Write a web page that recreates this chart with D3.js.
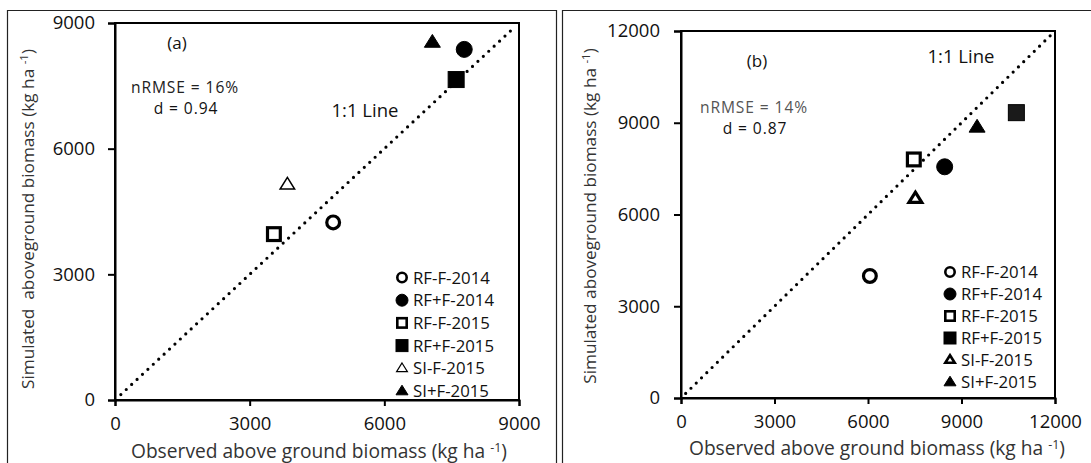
<!DOCTYPE html>
<html>
<head>
<meta charset="utf-8">
<script src="https://cdn.jsdelivr.net/npm/d3@7"></script>
<style>
  html, body { margin: 0; padding: 0; background: #fff; }
  svg { display: block; font-family: "Open Sans", "Noto Sans", sans-serif; }
</style>
</head>
<body>
<svg id="chart" width="1091" height="463"></svg>
<script>
// Treatments (same order in both panels)
const treatments = ["RF-F-2014", "RF+F-2014", "RF-F-2015", "RF+F-2015", "SI-F-2015", "SI+F-2015"];
const markerShapes = ["circle", "circle", "square", "square", "triangle", "triangle"];
const markerFilled = [false, true, false, true, false, true];

// Panel (a): observed vs simulated aboveground biomass (kg/ha)
const observedA  = [4860, 7780, 3540, 7600, 3840, 7070];
const simulatedA = [4240, 8370, 3960, 7650, 5150, 8550];
const ticksA = [0, 3000, 6000, 9000];

// Panel (b)
const observedB  = [6060, 8460, 7470, 10760, 7520, 9500];
const simulatedB = [3990, 7560, 7800, 9330, 6530, 8870];
const ticksB = [0, 3000, 6000, 9000, 12000];

const svg = d3.select("#chart");

// outer frame lines
svg.append("path").attr("d", "M7.5,463 V10.5 H556.5 V463").attr("fill", "none").attr("stroke", "#222").attr("stroke-width", 1.2);
svg.append("path").attr("d", "M562.5,463 V10.5 H1091").attr("fill", "none").attr("stroke", "#222").attr("stroke-width", 1.2);

function marker(g, shape, filled, size, strokeW, fillCol) {
  const col = "#000";
  let el;
  if (shape === "circle") {
    el = g.append("circle").attr("r", size / 2 - (filled ? 0 : strokeW / 2));
  } else if (shape === "square") {
    const s = size - (filled ? 0 : strokeW);
    el = g.append("rect").attr("x", -s / 2).attr("y", -s / 2).attr("width", s).attr("height", s);
  } else {
    const w = size - (filled ? 0 : strokeW), h = w * 0.8;
    el = g.append("path").attr("d", `M0,${-h / 2 - 1} L${w / 2},${h / 2 - 1} L${-w / 2},${h / 2 - 1} Z`);
  }
  if (filled) el.attr("fill", fillCol || col).attr("stroke", col).attr("stroke-width", 1);
  else el.attr("fill", "#fff").attr("stroke", col).attr("stroke-width", strokeW);
}

function panel(cfg) {
  const x = d3.scaleLinear().domain([0, cfg.max]).range([cfg.x0, cfg.x1]);
  const y = d3.scaleLinear().domain([0, cfg.max]).range([cfg.y0, cfg.y1]);
  const g = svg.append("g");

  // plot box
  g.append("rect").attr("x", cfg.x0).attr("y", cfg.y1).attr("width", cfg.x1 - cfg.x0).attr("height", cfg.y0 - cfg.y1)
    .attr("fill", "none").attr("stroke", "#000").attr("stroke-width", 2);

  const ax = g.append("g").attr("transform", `translate(0,${cfg.y0})`)
    .call(d3.axisBottom(x).tickValues(cfg.ticks).tickFormat(d3.format("d")).tickSizeOuter(0).tickSize(6).tickPadding(cfg.xPad));
  const ay = g.append("g").attr("transform", `translate(${cfg.x0},0)`)
    .call(d3.axisLeft(y).tickValues(cfg.ticks).tickFormat(d3.format("d")).tickSizeOuter(0).tickSize(7).tickPadding(cfg.yPad));
  [ax, ay].forEach(a => {
    a.select(".domain").attr("stroke", "#000").attr("stroke-width", 2);
    a.selectAll(".tick line").attr("stroke", "#000").attr("stroke-width", 2);
    a.selectAll(".tick text").attr("font-size", 18.5).attr("fill", "#111").attr("font-family", "Open Sans");
  });

  // 1:1 line (dotted)
  g.append("line")
    .attr("x1", x(cfg.lineFrom)).attr("y1", y(cfg.lineFrom))
    .attr("x2", x(cfg.lineTo)).attr("y2", y(cfg.lineTo))
    .attr("stroke", "#000").attr("stroke-width", 3.2)
    .attr("stroke-linecap", "round").attr("stroke-dasharray", "0,7.4");

  // data markers
  cfg.obs.forEach((v, i) => {
    const m = g.append("g").attr("transform", `translate(${x(v)},${y(cfg.sim[i])})`);
    const thin = cfg.thinTriangle && markerShapes[i] === "triangle" && !markerFilled[i];
    marker(m, markerShapes[i], markerFilled[i], 16, thin ? 1.5 : 3.2, cfg.fillSquare && markerShapes[i] === "square" ? "#1a1a1a" : null);
  });

  // legend
  treatments.forEach((t, i) => {
    const ly = cfg.legY + i * cfg.legStep;
    const m = g.append("g").attr("transform", `translate(${cfg.legX},${ly})`);
    const thin = cfg.thinTriangle && markerShapes[i] === "triangle" && !markerFilled[i];
    marker(m, markerShapes[i], markerFilled[i], 12, thin ? 1.2 : 2.6);
    g.append("text").attr("x", cfg.legX + 11).attr("y", ly).attr("dy", "0.36em")
      .attr("font-size", 16.8).attr("fill", "#111").text(t);
  });

  // annotations
  g.append("text").attr("x", cfg.tagX).attr("y", cfg.tagY).attr("dy", "0.36em").attr("text-anchor", "middle")
    .attr("font-size", 17).attr("fill", "#111").text(cfg.tag);
  g.append("text").attr("x", cfg.lineLabX).attr("y", cfg.lineLabY).attr("dy", "0.36em").attr("text-anchor", "middle")
    .attr("font-size", 18.5).attr("fill", "#111").text("1:1 Line");
  g.append("text").attr("x", cfg.statX).attr("y", cfg.statY).attr("dy", "0.36em").attr("text-anchor", "middle")
    .attr("font-size", 15.6).attr("letter-spacing", 0.9).attr("fill", cfg.statCol).text(cfg.nrmse);
  g.append("text").attr("x", cfg.statX + 1).attr("y", cfg.statY + 21).attr("dy", "0.36em").attr("text-anchor", "middle")
    .attr("font-size", 15.6).attr("letter-spacing", 0.9).attr("fill", "#111").text(cfg.dval);

  // axis titles
  const xt = g.append("text").attr("x", cfg.xTitleX).attr("y", cfg.xTitleY).attr("dy", "0.36em")
    .attr("text-anchor", "middle").attr("font-size", 19.2).attr("fill", "#333");
  xt.append("tspan").text("Observed above ground biomass (kg ha ");
  xt.append("tspan").attr("font-size", 12.5).attr("baseline-shift", "6").text("-1");
  xt.append("tspan").text(")");

  const yt = g.append("text").attr("transform", `translate(${cfg.yTitleX},${cfg.yTitleY}) rotate(-90)`).attr("dy", "0.36em")
    .attr("text-anchor", "middle").attr("font-size", 17.2).attr("fill", "#333").attr("xml:space", "preserve");
  yt.append("tspan").text(cfg.yTitle);
  yt.append("tspan").attr("font-size", 11.5).attr("baseline-shift", "6").text("-1");
  yt.append("tspan").text(")");
}

panel({
  max: 9000, ticks: ticksA, x0: 115, x1: 519, y0: 400, y1: 23, xPad: 11, yPad: 13,
  obs: observedA, sim: simulatedA, lineFrom: 130, lineTo: 8900,
  legX: 402, legY: 277.5, legStep: 22.7, thinTriangle: true, fillSquare: false,
  tag: "(a)", tagX: 177, tagY: 43, lineLabX: 365, lineLabY: 110,
  nrmse: "nRMSE = 16%", dval: "d = 0.94", statX: 185, statY: 87.5, statCol: "#222",
  xTitleX: 319, xTitleY: 451, yTitleX: 28, yTitleY: 219,
  yTitle: "Simulated  aboveground biomass (kg ha "
});

panel({
  max: 12000, ticks: ticksB, x0: 681, x1: 1055, y0: 398, y1: 31, xPad: 11, yPad: 14,
  obs: observedB, sim: simulatedB, lineFrom: 150, lineTo: 11850,
  legX: 950, legY: 272, legStep: 22, thinTriangle: false, fillSquare: true,
  tag: "(b)", tagX: 757, tagY: 61, lineLabX: 961, lineLabY: 56,
  nrmse: "nRMSE = 14%", dval: "d = 0.87", statX: 754, statY: 107.5, statCol: "#555",
  xTitleX: 877, xTitleY: 448, yTitleX: 590, yTitleY: 216,
  yTitle: "Simulated aboveground biomass (kg ha "
});
</script>
</body>
</html>
